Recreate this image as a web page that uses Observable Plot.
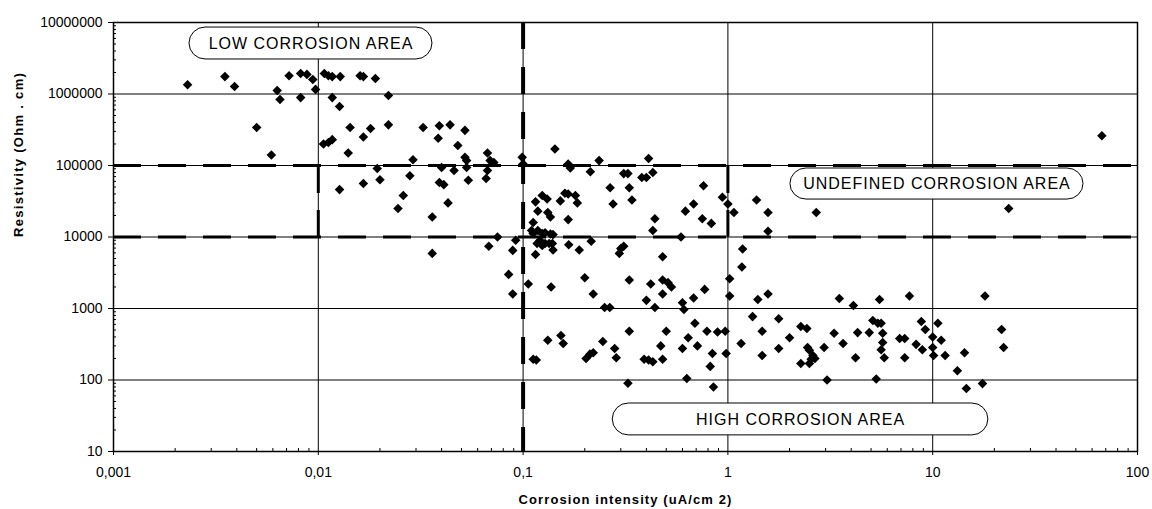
<!DOCTYPE html>
<html>
<head>
<meta charset="utf-8">
<script src="https://cdn.jsdelivr.net/npm/d3@7"></script>
<script src="https://cdn.jsdelivr.net/npm/@observablehq/plot@0.6"></script>
<style>
  html, body { margin: 0; padding: 0; background: #fff; }
  #chart svg { display: block; }
</style>
</head>
<body>
<div id="chart"></div>
<script>
// Corrosion intensity (uA/cm2) and resistivity (Ohm.cm)
const intensity = [
  0.0023, 0.0035, 0.0039, 0.005, 0.0059, 0.0063, 0.0065, 0.0072, 0.0082, 0.0082,
  0.0088, 0.0094, 0.0097, 0.0107, 0.0112, 0.0117, 0.0128, 0.0117, 0.0127, 0.0106,
  0.0112, 0.0117, 0.0143, 0.014, 0.0127, 0.016, 0.0166, 0.019, 0.0166, 0.018,
  0.0166, 0.0194, 0.02, 0.022, 0.022, 0.0245, 0.0325, 0.039, 0.044, 0.052,
  0.0385, 0.048, 0.067, 0.029, 0.052, 0.053, 0.069, 0.072, 0.04, 0.046,
  0.053, 0.067, 0.066, 0.054, 0.039, 0.041, 0.028, 0.026, 0.043, 0.036,
  0.099, 0.1, 0.075, 0.068, 0.092, 0.036, 0.089, 0.085, 0.089,
  0.143, 0.166, 0.17, 0.213, 0.235, 0.266, 0.275, 0.31, 0.325, 0.33,
  0.34, 0.38, 0.40, 0.41, 0.43, 0.62, 0.68, 0.75, 0.76, 0.83,
  0.94, 1.0, 1.07, 1.38, 1.57, 1.57, 0.44, 0.43, 0.59, 0.166,
  2.7, 23.5, 67, 0.115, 0.124, 0.131, 0.118, 0.132, 0.136, 0.152,
  0.16, 0.166, 0.18, 0.184, 0.112, 0.11, 0.112, 0.118, 0.124, 0.128,
  0.136, 0.14, 0.117, 0.121, 0.128, 0.134, 0.139, 0.115, 0.124, 0.14,
  0.167, 0.188, 0.215, 0.30, 0.31, 0.295, 0.48, 0.106, 0.137, 0.2,
  0.22, 0.33, 0.42, 0.48, 0.51, 0.53, 0.48, 0.68, 0.40, 0.44,
  0.60, 0.61, 0.77, 0.25, 0.265,
  0.33, 0.132, 0.153, 0.157, 0.112, 0.116, 0.203, 0.212, 0.22, 0.245,
  0.28, 0.285, 0.39, 0.41, 0.43, 0.47, 0.48, 0.50, 0.60, 0.64,
  0.69, 0.71, 0.79, 0.89, 0.97, 0.84, 0.82, 0.98, 0.63, 0.325,
  0.85, 1.18, 1.17, 1.02, 1.02, 1.4, 1.57, 3.5, 4.1, 5.5,
  7.7, 18, 1.32, 1.47, 1.16, 1.47, 1.77, 2.0, 1.77, 2.27,
  2.43, 2.45, 2.5, 2.6, 2.55, 2.5, 2.66, 2.27, 2.95, 3.05,
  3.3, 3.65, 4.3, 4.9, 4.2, 5.1, 5.4, 5.6, 5.7, 5.7,
  5.6, 5.8, 5.3, 6.9, 7.3, 7.3, 8.3, 8.8, 9.2, 8.9,
  10, 10, 10.1, 10.6, 11, 11.5, 13.2, 14.3, 14.6, 17.5,
  21.7, 22.2
];
const resistivity = [
  1.35e6, 1.75e6, 1.27e6, 3.4e5, 1.4e5, 1.12e6, 8.4e5, 1.8e6, 1.93e6, 8.9e5,
  1.88e6, 1.6e6, 1.16e6, 1.93e6, 1.8e6, 1.75e6, 1.75e6, 8.9e5, 6.7e5, 2.0e5,
  2.1e5, 2.3e5, 3.4e5, 1.5e5, 4.6e4, 1.8e6, 1.75e6, 1.65e6, 2.5e5, 3.3e5,
  5.6e4, 9.1e4, 6.3e4, 9.5e5, 3.7e5, 2.5e4, 3.4e5, 3.6e5, 3.7e5, 3.1e5,
  2.4e5, 1.9e5, 1.5e5, 1.2e5, 1.3e5, 1.17e5, 1.17e5, 1.1e5, 9.4e4, 8.5e4,
  9.4e4, 8.5e4, 6.6e4, 6.2e4, 5.8e4, 5.4e4, 7.2e4, 3.8e4, 3.0e4, 1.9e4,
  1.3e5, 1.05e5, 1.0e4, 7.4e3, 9.0e3, 5.9e3, 6.5e3, 3.0e3, 1.6e3,
  1.7e5, 1.05e5, 9.2e4, 8.2e4, 1.17e5, 4.9e4, 2.9e4, 7.7e4, 7.7e4, 4.9e4,
  3.3e4, 6.8e4, 6.8e4, 1.25e5, 8.0e4, 2.3e4, 2.9e4, 1.8e4, 5.2e4, 1.55e4,
  3.6e4, 2.9e4, 2.2e4, 3.3e4, 2.2e4, 1.2e4, 1.8e4, 1.23e4, 1.0e4, 1.75e4,
  2.2e4, 2.5e4, 2.6e5, 3.1e4, 3.8e4, 3.4e4, 2.3e4, 2.2e4, 1.9e4, 3.2e4,
  4.1e4, 4.0e4, 3.8e4, 3.0e4, 1.6e4, 1.23e4, 1.12e4, 1.23e4, 1.12e4, 1.15e4,
  1.1e4, 1.08e4, 8.1e3, 8.9e3, 8.1e3, 8.1e3, 8.1e3, 5.7e3, 7.6e3, 6.6e3,
  7.8e3, 6.6e3, 8.7e3, 6.9e3, 7.4e3, 5.9e3, 5.3e3, 2.2e3, 2.0e3, 2.7e3,
  1.6e3, 2.5e3, 2.2e3, 2.5e3, 2.3e3, 2.0e3, 1.6e3, 1.4e3, 1.3e3, 1.03e3,
  1.2e3, 970, 1.85e3, 1.03e3, 1.03e3,
  480, 360, 420, 325, 195, 190, 200, 230, 240, 345,
  275, 205, 195, 190, 180, 300, 195, 480, 275, 390,
  620, 300, 480, 470, 480, 235, 155, 235, 105, 90,
  80, 6.8e3, 3.8e3, 2.6e3, 1.5e3, 1.34e3, 1.6e3, 1.38e3, 1.1e3, 1.34e3,
  1.5e3, 1.5e3, 770, 480, 325, 220, 720, 390, 275, 560,
  525, 285, 260, 220, 195, 170, 200, 170, 285, 100,
  450, 325, 460, 460, 205, 680, 620, 620, 450, 335,
  265, 205, 103, 380, 380, 205, 315, 660, 510, 265,
  400, 285, 220, 620, 360, 220, 135, 240, 76, 89,
  510, 285
];

// axes
const xTicks = [0.001, 0.01, 0.1, 1, 10, 100];
const yTicks = [10, 100, 1000, 10000, 100000, 1000000, 10000000];

// threshold lines
const resistivityLimits = [10000, 100000];
const intensityLimit = [0.1];
const intensityBands = [0.01, 1];

// area labels (data-unit boxes)
const areaLabels = ["LOW CORROSION AREA", "UNDEFINED CORROSION AREA", "HIGH CORROSION AREA"];
const areaX1 = [0.00235, 2.02, 0.274];
const areaX2 = [0.0361, 54.5, 18.7];
const areaY1 = [3.04e6, 3.34e4, 16.8];
const areaY2 = [8.5e6, 9.08e4, 46.9];

const data = intensity.map((x, i) => ({x, y: resistivity[i]}));
const areas = areaLabels.map((label, i) => ({
  label, x1: areaX1[i], x2: areaX2[i], y1: areaY1[i], y2: areaY2[i],
  cx: Math.sqrt(areaX1[i] * areaX2[i]), cy: Math.sqrt(areaY1[i] * areaY2[i])
}));

const minorX = [];
for (let d = 0.001; d < 100; d *= 10) for (let k = 2; k <= 9; k++) minorX.push(+(d * k).toPrecision(3));
const minorY = [];
for (let d = 10; d < 1e7; d *= 10) for (let k = 2; k <= 9; k++) minorY.push(d * k);

const W = 1152, H = 509, mT = 22, mR = 15, mB = 58, mL = 113;
const font = "'Liberation Sans', Arial, sans-serif";

const chart = Plot.plot({
  width: W, height: H,
  marginTop: mT, marginRight: mR, marginBottom: mB, marginLeft: mL,
  style: {fontFamily: font, fontSize: "14px", color: "black", background: "white"},
  x: {type: "log", domain: [0.001, 100], label: null},
  y: {type: "log", domain: [10, 1e7], label: null},
  marks: [
    Plot.ruleX(xTicks, {stroke: "black", strokeWidth: 1}),
    Plot.ruleY(yTicks, {stroke: "black", strokeWidth: 1}),
    Plot.tickX(minorX, {x: d => d, stroke: "black", insetTop: (H - mT - mB) - 3}),
    Plot.tickY(minorY, {y: d => d, stroke: "black", insetRight: (W - mL - mR) - 3}),
    Plot.axisX(xTicks, {tickSize: 4, tickPadding: 12, fontSize: 14,
      tickFormat: d => String(d).replace(".", ","), label: null}),
    Plot.axisY(yTicks, {tickSize: 5, tickPadding: 6, fontSize: 14,
      tickFormat: d3.format("d"), label: null}),
    Plot.ruleY(resistivityLimits, {stroke: "black", strokeWidth: 3, strokeDasharray: "28,17"}),
    Plot.ruleX(intensityLimit, {stroke: "black", strokeWidth: 4, strokeDasharray: "27,18"}),
    Plot.ruleX(intensityBands, {x: d => d, y1: 100000, y2: 10000, stroke: "black", strokeWidth: 3, strokeDasharray: "28,17"}),
    Plot.dot(data, {x: "x", y: "y", symbol: "diamond2", r: 4.3, fill: "black", stroke: "none"}),
    Plot.rect(areas, {x1: "x1", x2: "x2", y1: "y1", y2: "y2", fill: "white", stroke: "black", strokeWidth: 1, rx: 16}),
    Plot.text(areas, {x: "cx", y: "cy", text: "label", fontSize: 16, fill: "black"}),
    Plot.text(["Corrosion intensity (uA/cm 2)"], {frameAnchor: "bottom", dy: 52, fontSize: 13, fontWeight: "bold"}),
    Plot.text(["Resistivity (Ohm . cm)"], {frameAnchor: "left", dx: -95, rotate: -90, fontSize: 13, fontWeight: "bold"}),
    Plot.frame({stroke: "black", strokeWidth: 1.5})
  ]
});
document.getElementById("chart").appendChild(chart);
// letter spacing for the bold axis titles and area labels
d3.select(chart).selectAll("text").each(function() {
  const t = this.textContent;
  if (t.startsWith("Corrosion intensity")) this.setAttribute("letter-spacing", "1.1");
  else if (t.startsWith("Resistivity")) this.setAttribute("letter-spacing", "1.3");
  else if (areaLabels.includes(t)) this.setAttribute("letter-spacing", "1");
});
</script>
</body>
</html>
